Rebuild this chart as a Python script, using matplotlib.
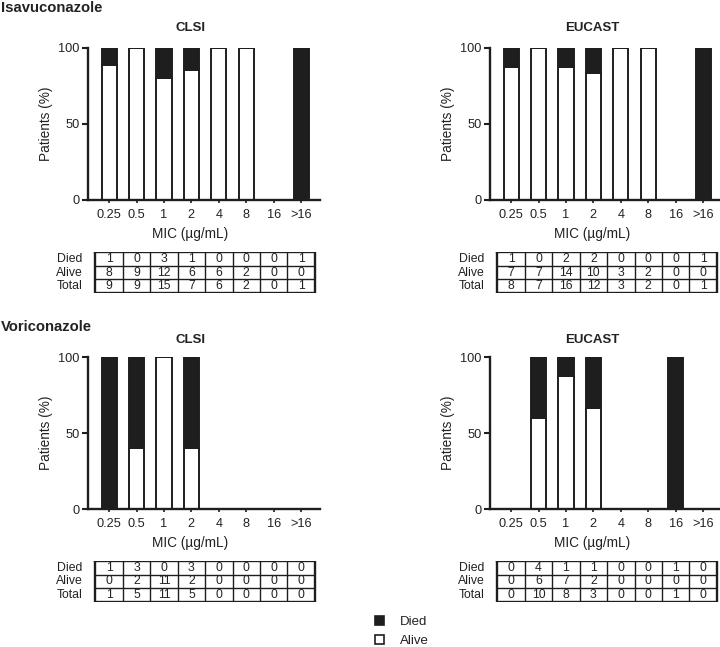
import numpy as np
import matplotlib
matplotlib.use("Agg")
import matplotlib.pyplot as plt
from matplotlib.patches import Patch

plt.rcParams['font.family'] = ['Liberation Sans', 'DejaVu Sans']

categories = ["0.25", "0.5", "1", "2", "4", "8", "16", ">16"]
row_labels = ["Died", "Alive", "Total"]

isa_clsi_died = [1, 0, 3, 1, 0, 0, 0, 1]
isa_clsi_alive = [8, 9, 12, 6, 6, 2, 0, 0]
isa_eucast_died = [1, 0, 2, 2, 0, 0, 0, 1]
isa_eucast_alive = [7, 7, 14, 10, 3, 2, 0, 0]
vor_clsi_died = [1, 3, 0, 3, 0, 0, 0, 0]
vor_clsi_alive = [0, 2, 11, 2, 0, 0, 0, 0]
vor_eucast_died = [0, 4, 1, 1, 0, 0, 1, 0]
vor_eucast_alive = [0, 6, 7, 2, 0, 0, 0, 0]

W, H = 720, 647
fig = plt.figure(figsize=(W / 100, H / 100), dpi=100)

DARK = '#1e1e1e'
TXT = '#222222'
XLIM = (-0.77, 7.69)


def fx(px):
    return px / W


def fy(px):
    return 1 - px / H


def panel(left_px, top_px, title, title_gap, died, alive):
    died = np.array(died, dtype=float)
    alive = np.array(alive, dtype=float)
    total = died + alive
    safe = np.where(total > 0, total, 1)
    alive_pct = np.where(total > 0, alive / safe * 100, 0)
    died_pct = np.where(total > 0, died / safe * 100, 0)
    x = np.arange(len(categories))

    ax = fig.add_axes([fx(left_px), fy(top_px + 152), 232 / W, 152 / H])
    ax.bar(x, alive_pct, width=0.55, color='white', edgecolor=DARK, linewidth=1.4)
    ax.bar(x, died_pct, bottom=alive_pct, width=0.55, color=DARK, edgecolor=DARK, linewidth=1.4)
    ax.set_xlim(*XLIM)
    ax.set_ylim(0, 100)
    ax.set_yticks([0, 50, 100])
    ax.set_xticks(x)
    ax.set_xticklabels(categories, fontsize=9.2, color=TXT)
    ax.tick_params(axis='x', length=2.5, width=1.2, pad=4, color=DARK)
    ax.tick_params(axis='y', length=4, width=1.5, labelsize=9.2, labelcolor=TXT, pad=2, color=DARK)
    for s in ['top', 'right']:
        ax.spines[s].set_visible(False)
    for s in ['left', 'bottom']:
        ax.spines[s].set_linewidth(1.7)
        ax.spines[s].set_color(DARK)
    ax.set_ylabel("Patients (%)", fontsize=9.8, color=TXT, labelpad=4)
    ax.set_xlabel("MIC (µg/mL)", fontsize=9.8, color=TXT)
    ax.xaxis.set_label_coords(0.44, -0.18)
    ax.text(0.44, 1 + title_gap / 152, title, transform=ax.transAxes, ha='center', va='center',
            fontsize=9.5, fontweight='bold', color=TXT)

    # table
    tab = fig.add_axes([fx(left_px), fy(top_px + 245), 232 / W, 41 / H])
    tab.set_xlim(*XLIM)
    tab.set_ylim(3, 0)
    tab.axis('off')
    rows = [died.astype(int), alive.astype(int), total.astype(int)]
    n = len(categories)
    for r in range(1, 3):
        tab.plot([-0.5, n - 0.5], [r, r], color=DARK, lw=1.0, solid_capstyle='butt')
    for c in range(1, n):
        tab.plot([c - 0.5, c - 0.5], [0, 3], color=DARK, lw=1.0, solid_capstyle='butt')
    tab.plot([-0.5, n - 0.5, n - 0.5, -0.5, -0.5], [0, 0, 3, 3, 0], color=DARK, lw=1.7)
    for r, vals in enumerate(rows):
        for c, v in enumerate(vals):
            tab.text(c, r + 0.5, str(v), ha='center', va='center', fontsize=8.8, color=TXT)
        tab.text(-0.97, r + 0.5, row_labels[r], ha='right', va='center', fontsize=8.8, color=TXT)
    return ax


panel(88, 48, "CLSI", 20, isa_clsi_died, isa_clsi_alive)
panel(490, 48, "EUCAST", 20, isa_eucast_died, isa_eucast_alive)
panel(88, 357, "CLSI", 17, vor_clsi_died, vor_clsi_alive)
panel(490, 357, "EUCAST", 17, vor_eucast_died, vor_eucast_alive)

fig.text(0.001, fy(1), "Isavuconazole", ha='left', va='top', fontsize=10.7, fontweight='bold', color=TXT)
fig.text(0.001, fy(320), "Voriconazole", ha='left', va='top', fontsize=10.7, fontweight='bold', color=TXT)

handles = [Patch(facecolor=DARK, edgecolor=DARK, linewidth=1.2),
           Patch(facecolor='white', edgecolor=DARK, linewidth=1.2)]
fig.legend(handles, ["Died", "Alive"], loc='upper left', bbox_to_anchor=(fx(366), fy(607)),
           frameon=False, fontsize=9.5, handlelength=0.7, handleheight=0.7,
           handletextpad=1.2, labelspacing=0.5, borderpad=0.2, labelcolor=TXT)

fig.savefig("out.png", dpi=100)
